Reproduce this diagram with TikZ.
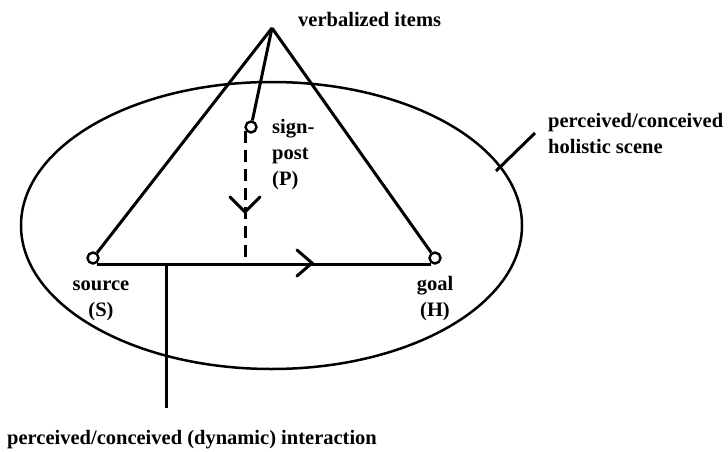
\documentclass[tikz,border=0pt]{standalone}
\usepackage{fontspec}
\setmainfont{Liberation Serif}
\usetikzlibrary{calc}
\tikzset{
  lbl/.style={anchor=base west, inner sep=0pt, font=\fontsize{20.5}{26}\selectfont\bfseries, align=left},
  dot/.style={circle, draw, line width=2.4pt, minimum size=11pt, inner sep=0pt, fill=white},
  thick line/.style={line width=3pt},
  chev/.style={line width=3pt, line cap=round, line join=miter}
}
\begin{document}
\begin{tikzpicture}[x=1pt,y=-1pt]
\useasboundingbox (0,0) rectangle (728,452);
% ellipse (holistic scene)
\draw[line width=2.5pt] (271.5,225.5) ellipse [x radius=250.5, y radius=143.5];
% points
\coordinate (A) at (272,28);
\node[dot] (S) at (93,258) {};
\node[dot] (H) at (435,258) {};
\node[dot] (P) at (251,127) {};
% triangle
\draw[thick line] (A) -- (S);
\draw[thick line] (A) -- (H);
\draw[thick line] (A) -- (P);
% horizontal interaction line
\coordinate (L) at ($(S.south)+(4,0)$);
\coordinate (R) at ($(H.south)+(-4,0)$);
\draw[thick line] (L) -- (R);
\coordinate (ha) at (312,263);
\draw[chev] ($(ha)+(-15,-13)$) -- (ha) -- ($(ha)+(-15,13)$);
% dashed signpost line
\coordinate (Pt) at (245,131);
\coordinate (Pb) at (Pt |- L);
\draw[thick line, dash pattern=on 12pt off 7pt] (Pt) -- (Pb);
\coordinate (va) at (245,212);
\draw[chev] ($(va)+(-15,-15)$) -- (va) -- ($(va)+(15,-15)$);
% pointers
\coordinate (I1) at (166,263);
\coordinate (I2) at (166,408);
\draw[thick line] (I1) -- (I2);
\coordinate (E1) at (496,171);
\coordinate (E2) at (535,133);
\draw[thick line] (E1) -- (E2);
% labels (base anchor = last line's baseline)
\node[lbl] (verb) at (298,27) {verbalized items};
\node[lbl] (sign) at (272,185) {sign-\\post\\(P)};
\node[lbl, anchor=base, align=center] (src) at (101,316) {source\\(S)};
\node[lbl, anchor=base, align=center] (goal) at (435,316) {goal\\(H)};
\node[lbl] (scene) at (548,153) {perceived/conceived\\holistic scene};
\node[lbl] (inter) at (7,444) {perceived/conceived (dynamic) interaction};
\end{tikzpicture}
\end{document}
